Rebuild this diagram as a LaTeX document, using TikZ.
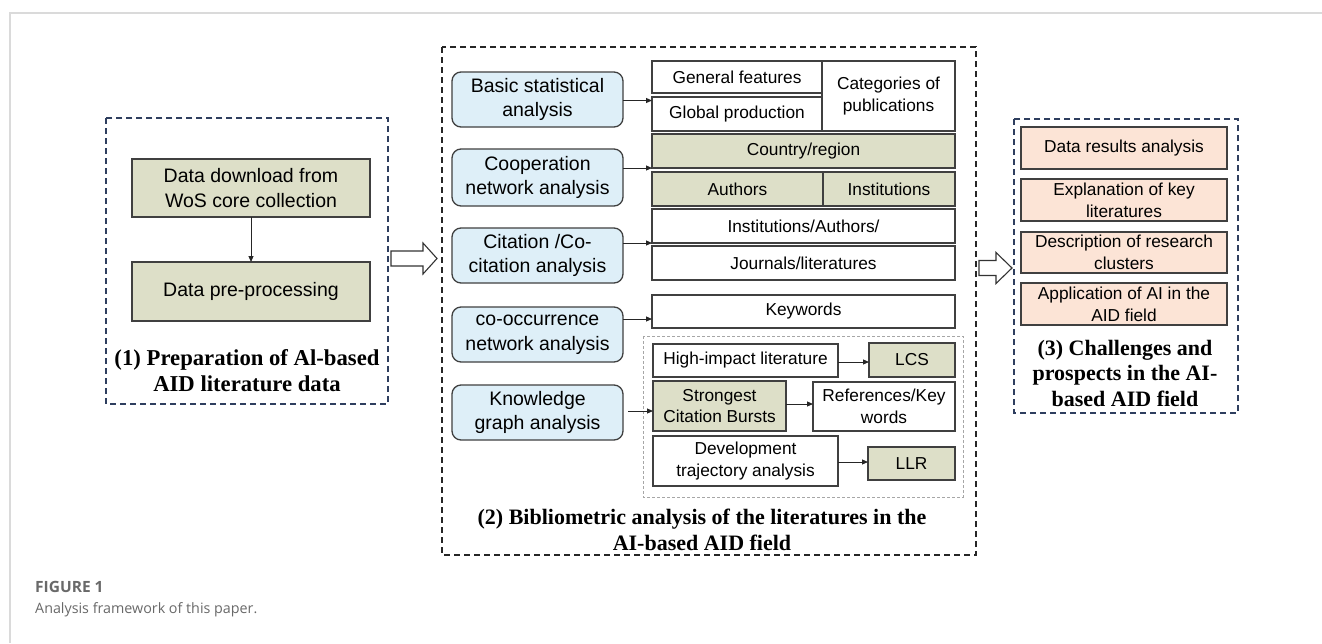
\documentclass[tikz,border=0pt]{standalone}
\usepackage{fontspec}
\setmainfont{Liberation Sans}
\newfontfamily\titlefont{Liberation Serif}
\newfontfamily\capfont{Open Sans}
\usetikzlibrary{arrows.meta,calc}
\definecolor{boxgreen}{RGB}{221,223,200}
\definecolor{boxblue}{RGB}{222,239,248}
\definecolor{boxorange}{RGB}{252,228,214}
\definecolor{navy}{RGB}{46,62,94}
\definecolor{edgegray}{RGB}{64,64,64}
\definecolor{framegray}{RGB}{218,218,218}
\definecolor{capgray}{RGB}{105,105,105}
\begin{document}
\begin{tikzpicture}[x=1pt,y=-1pt,
 base/.style={draw=edgegray,line width=1.3pt,inner sep=0pt,outer sep=0pt,align=center,text=black},
 big/.style={font=\fontsize{19.5}{24.7}\selectfont},
 small/.style={font=\fontsize{17.3}{21.7}\selectfont},
 greenbox/.style={base,fill=boxgreen,small},
 whitebox/.style={base,fill=white,small},
 bluebox/.style={base,fill=boxblue,rounded corners=9pt,minimum width=171pt,minimum height=55pt,big},
 orangebox/.style={base,fill=boxorange,minimum width=206pt,small},
 navyframe/.style={draw=navy,line width=1.8pt,dash pattern=on 6pt off 4pt},
 blackframe/.style={draw=black!85,line width=1.8pt,dash pattern=on 6pt off 4pt},
 grayframe/.style={draw=gray!70,line width=0.9pt,dash pattern=on 3pt off 2pt},
 titletext/.style={font=\titlefont\bfseries\fontsize{22}{25.5}\selectfont,align=center,inner sep=0pt},
 conn/.style={draw=black!85,line width=1pt,-{Triangle[length=6pt,width=5pt]}},
 hollow/.style={draw=black!80,line width=1.1pt,fill=white,line join=miter},
]
\useasboundingbox (0,0) rectangle (1322,643);
\fill[white] (0,0) rectangle (1322,643);
\draw[framegray,line width=1.5pt] (10,643) -- (10,13) -- (1322,13);

% ---------- panel 1 ----------
\draw[navyframe] (106,118) rectangle (388,404);
\node[greenbox,big,minimum width=238pt,minimum height=58pt] (dl) at (251,188) {Data download from\\WoS core collection};
\node[greenbox,big,minimum width=238pt,minimum height=59pt] (pp) at (251,291.5) {Data pre-processing};
\draw[conn] (dl.south) -- (pp.north);
\node[titletext,font=\titlefont\bfseries\fontsize{22.7}{25.5}\selectfont] (t1) at (247,370.5) {(1) Preparation of Al-based\\AID literature data};

% hollow arrow 1
\draw[hollow] (391,251) -- (423,251) -- (423,243) -- (437,258.5) -- (423,274) -- (423,266) -- (391,266) -- cycle;

% ---------- panel 2 ----------
\draw[blackframe] (442,47) rectangle (976,555);
\node[bluebox] (b1) at (537.5,99.5) {Basic statistical\\analysis};
\node[bluebox,minimum height=57pt] (b2) at (537.5,177.5) {Cooperation\\network analysis};
\node[bluebox] (b3) at (537.5,255.5) {Citation /Co-\\citation analysis};
\node[bluebox] (b4) at (537.5,334.5) {co-occurrence\\network analysis};
\node[bluebox] (b5) at (537.5,412.5) {Knowledge\\graph analysis};

\node[whitebox,minimum width=170pt,minimum height=32pt] (gf) at (737,77) {General features};
\node[whitebox,minimum width=170pt,minimum height=34pt] (gp) at (737,114) {Global production};
\node[whitebox,minimum width=133pt,minimum height=70pt] (cat) at (888.5,96) {Categories of\\publications};
\node[greenbox,minimum width=303pt,minimum height=34pt] (cr) at (803.5,151) {Country/region};
\node[greenbox,minimum width=171pt,minimum height=34pt] (au) at (737.5,189) {Authors};
\node[greenbox,minimum width=132pt,minimum height=34pt] (ins) at (889,189) {Institutions};
\node[whitebox,minimum width=303pt,minimum height=34pt] (ia) at (803.5,226) {Institutions/Authors/};
\node[whitebox,minimum width=303pt,minimum height=34pt] (jl) at (803.5,263) {Journals/literatures};
\node[whitebox,minimum width=303pt,minimum height=33pt] (kw) at (803.5,311.5) {Keywords};

\draw[grayframe] (643,336) rectangle (963,497);
\node[whitebox,minimum width=185pt,minimum height=33pt] (hi) at (745.5,360.5) {High-impact literature};
\node[greenbox,minimum width=86pt,minimum height=34pt] (lcs) at (912,360) {LCS};
\node[greenbox,minimum width=133pt,minimum height=50pt] (sc) at (719.5,406) {Strongest\\Citation Bursts};
\node[whitebox,minimum width=142pt,minimum height=49pt] (rk) at (884,406.5) {References/Key\\words};
\node[whitebox,minimum width=185pt,minimum height=50pt] (dt) at (745.5,461) {Development\\trajectory analysis};
\node[greenbox,minimum width=87pt,minimum height=33pt] (llr) at (911.5,463.5) {LLR};

\coordinate (j1) at (652,100.5);
\coordinate (j2) at (652,168);
\coordinate (j3) at (652,243);
\coordinate (j4) at (652,319);
\coordinate (s5) at (628,411);
\draw[conn] (b1.east |- j1) -- (j1);
\draw[conn] (b2.east |- j2) -- (j2);
\draw[conn] (b3.east |- j3) -- (j3);
\draw[conn] (b4.east |- j4) -- (j4);
\draw[conn] (s5) -- (sc.west |- s5);
\draw[conn] ($(hi.east)+(0,1.5)$) -- ($(lcs.west |- hi.east)+(0,1.5)$);
\draw[conn] ($(sc.east)+(0,-2)$) -- ($(rk.west |- sc.east)+(0,-2)$);
\draw[conn] ($(dt.east)+(0,1)$) -- ($(llr.west |- dt.east)+(0,1)$);

\node[titletext] (t2) at (702,530) {(2) Bibliometric analysis of the literatures in the\\AI-based AID field};

% hollow arrow 2
\draw[hollow] (979,260.5) -- (996,260.5) -- (996,252.5) -- (1012,268) -- (996,283.5) -- (996,275.5) -- (979,275.5) -- cycle;

% ---------- panel 3 ----------
\draw[navyframe] (1014,119) rectangle (1238,413);
\node[orangebox,minimum height=42pt] (o1) at (1124,148) {Data results analysis};
\node[orangebox,minimum height=42pt] (o2) at (1124,200) {Explanation of key\\literatures};
\node[orangebox,minimum height=41pt] (o3) at (1124,252.5) {Description of research\\clusters};
\node[orangebox,minimum height=42pt] (o4) at (1124,304) {Application of AI in the\\AID field};
\node[titletext] (t3) at (1125,373) {(3) Challenges and\\prospects in the AI-\\based AID field};

% ---------- caption ----------
\node[anchor=base west,inner sep=0pt,text=capgray,font=\capfont\bfseries\fontsize{15.5}{17}\selectfont] (cap1) at (35,592) {FIGURE 1};
\node[anchor=base west,inner sep=0pt,text=capgray,font=\capfont\fontsize{14.3}{17}\selectfont] (cap2) at (35,613) {Analysis framework of this paper.};
\end{tikzpicture}
\end{document}
